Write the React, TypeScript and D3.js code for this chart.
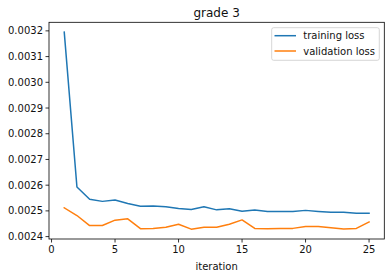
import React, { useEffect, useRef } from "react";
import * as d3 from "d3";

const iterations = [1,2,3,4,5,6,7,8,9,10,11,12,13,14,15,16,17,18,19,20,21,22,23,24,25];
const trainingLoss = [0.003195,0.002593,0.002545,0.002537,0.002542,0.002529,0.002518,0.002519,0.002516,0.002509,0.002505,0.002516,0.002504,0.002508,0.002499,0.002503,0.002498,0.002498,0.002498,0.002502,0.002498,0.002495,0.002495,0.002491,0.002491];
const validationLoss = [0.002512,0.002482,0.002443,0.002443,0.002464,0.002469,0.002431,0.002432,0.002436,0.002448,0.002429,0.002436,0.002436,0.002448,0.002465,0.002432,0.002431,0.002432,0.002432,0.002439,0.002439,0.002434,0.002430,0.002432,0.002457];
const xTicks = [0,5,10,15,20,25];
const yTicks = [0.0024,0.0025,0.0026,0.0027,0.0028,0.0029,0.003,0.0031,0.0032];
const seriesNames = ["training loss","validation loss"];
const colors = ["#1f77b4","#ff7f0e"];

export default function App() {
  const ref = useRef<SVGSVGElement>(null);
  useEffect(() => {
    const svg = d3.select(ref.current);
    svg.selectAll("*").remove();
    const L = 49, R = 384.3, T = 22.3, B = 239;
    const font = "DejaVu Sans, sans-serif";
    const txt = "#111";
    const allY = [...trainingLoss, ...validationLoss];
    const ymin = d3.min(allY)!, ymax = d3.max(allY)!;
    const ym = (ymax - ymin) * 0.05;
    const xm = (25 - 1) * 0.05;
    const x = d3.scaleLinear().domain([1 - xm, 25 + xm]).range([L, R]);
    const y = d3.scaleLinear().domain([ymin - ym, ymax + ym]).range([B, T]);

    const g = svg.append("g");
    const line = d3.line<number>().x((_, i) => x(iterations[i])).y(d => y(d));
    [trainingLoss, validationLoss].forEach((s, k) => {
      g.append("path").datum(s).attr("d", line).attr("fill", "none")
        .attr("stroke", colors[k]).attr("stroke-width", 1.5).attr("stroke-linejoin", "round").attr("stroke-linecap", "square");
    });

    // spines
    g.append("rect").attr("x", L).attr("y", T).attr("width", R - L).attr("height", B - T)
      .attr("fill", "none").attr("stroke", "#000").attr("stroke-width", 0.8);

    // x ticks
    xTicks.forEach(t => {
      const px = x(t);
      g.append("line").attr("x1", px).attr("x2", px).attr("y1", B).attr("y2", B + 3.5).attr("stroke", "#000").attr("stroke-width", 0.8);
      g.append("text").attr("x", px).attr("y", B + 6).attr("dy", "0.76em").attr("text-anchor", "middle")
        .attr("font-family", font).attr("font-size", 10).attr("fill", txt).text(String(t));
    });
    yTicks.forEach(t => {
      const py = y(t);
      g.append("line").attr("x1", L - 3.5).attr("x2", L).attr("y1", py).attr("y2", py).attr("stroke", "#000").attr("stroke-width", 0.8);
      g.append("text").attr("x", L - 6).attr("y", py).attr("dy", "0.35em").attr("text-anchor", "end")
        .attr("font-family", font).attr("font-size", 10).attr("fill", txt).text(t.toFixed(4));
    });

    g.append("text").attr("x", (L + R) / 2).attr("y", 270).attr("text-anchor", "middle")
      .attr("font-family", font).attr("font-size", 10).attr("fill", txt).text("iteration");
    g.append("text").attr("x", (L + R) / 2).attr("y", 16.5).attr("text-anchor", "middle")
      .attr("font-family", font).attr("font-size", 12).attr("fill", txt).text("grade 3");

    // legend
    const lg = g.append("g");
    lg.append("rect").attr("x", 271.7).attr("y", 27.7).attr("width", 107.6).attr("height", 32.6).attr("rx", 2)
      .attr("fill", "#fff").attr("fill-opacity", 0.8).attr("stroke", "#ccc").attr("stroke-width", 0.8);
    seriesNames.forEach((n, k) => {
      const ly = 35.7 + k * 15.3;
      lg.append("line").attr("x1", 274.5).attr("x2", 296).attr("y1", ly).attr("y2", ly).attr("stroke", colors[k]).attr("stroke-width", 1.5);
      lg.append("text").attr("x", 303.3).attr("y", ly).attr("dy", "0.35em").attr("font-family", font).attr("font-size", 10)
        .attr("fill", txt).text(n);
    });
  }, []);
  return (
    <svg ref={ref} width={390} height={278} style={{ position: "absolute", left: 0, top: 0, background: "#fff" }} />
  );
}
